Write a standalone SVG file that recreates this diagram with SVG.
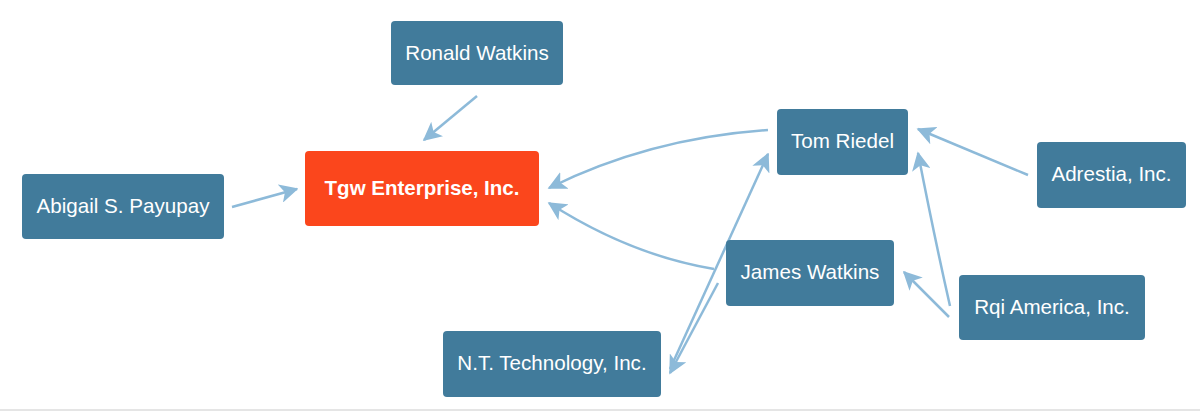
<svg xmlns="http://www.w3.org/2000/svg" width="1200" height="411" viewBox="0 0 1200 411">
<defs>
<style>
.n{fill:#417b9b}
.c{fill:#fb461c}
.t{font-family:"Liberation Sans",Arial,sans-serif;font-size:20.6px;fill:#fff;text-anchor:middle}
.b{font-weight:bold;font-size:20.5px}
.e{fill:none;stroke:#8dbad9;stroke-width:2.5;marker-end:url(#a)}
</style>
<marker id="a" viewBox="0 0 12 12" refX="11" refY="6" markerWidth="7.5" markerHeight="7.5" markerUnits="strokeWidth" orient="auto">
<path d="M0,0 L12,6 L0,12 L3,6 z" fill="#8dbad9"/>
</marker>
</defs>
<rect width="1200" height="411" fill="#fff"/>
<line x1="0" y1="410" x2="1200" y2="410" stroke="#dddddd" stroke-width="1.5"/>
<g id="connectors">
<path class="e" d="M477,96 L424,140"/>
<path class="e" d="M232,207 L297,189"/>
<path class="e" d="M768,130 Q650,138 549,188"/>
<path class="e" d="M714,269 Q630,255 549,203"/>
<path class="e" d="M670,369 L768,154"/>
<path class="e" d="M718,283 L670,373"/>
<path class="e" d="M1028,175 L918,129"/>
<path class="e" d="M950,306 Q935,240 918,153"/>
<path class="e" d="M949,317 L904,272"/>
</g>
<g id="ronald"><rect class="n" x="391" y="21" width="172" height="64" rx="4"/><text class="t" x="477" y="60">Ronald Watkins</text></g>
<g id="abigail"><rect class="n" x="22" y="174" width="202" height="65" rx="4"/><text class="t" x="123" y="213">Abigail S. Payupay</text></g>
<g id="tgw"><rect class="c" x="305" y="151" width="234" height="75" rx="4"/><text class="t b" x="422" y="195">Tgw Enterprise, Inc.</text></g>
<g id="tom"><rect class="n" x="777" y="109" width="131" height="66" rx="4"/><text class="t" x="842.5" y="148">Tom Riedel</text></g>
<g id="james"><rect class="n" x="726" y="240" width="168" height="66" rx="4"/><text class="t" x="810" y="279">James Watkins</text></g>
<g id="adrestia"><rect class="n" x="1037" y="142" width="149" height="66" rx="4"/><text class="t" x="1111.5" y="181">Adrestia, Inc.</text></g>
<g id="rqi"><rect class="n" x="959" y="275" width="186" height="65" rx="4"/><text class="t" x="1052" y="314">Rqi America, Inc.</text></g>
<g id="nt"><rect class="n" x="443" y="331" width="218" height="66" rx="4"/><text class="t" x="552" y="370">N.T. Technology, Inc.</text></g>
</svg>
